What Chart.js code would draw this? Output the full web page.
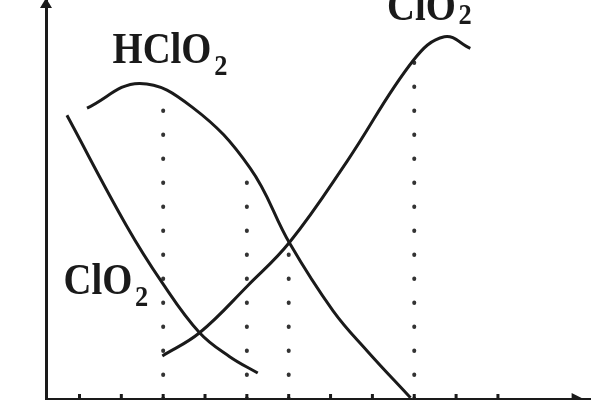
<!DOCTYPE html>
<html>
<head>
<meta charset="utf-8">
<script src="https://cdn.jsdelivr.net/npm/chart.js@4"></script>
<style>
  html, body { margin: 0; padding: 0; background: #fff; }
  #wrap { width: 600px; height: 400px; }
</style>
</head>
<body>
<div id="wrap"><canvas id="speciesChart"></canvas></div>
<script>
// curves (x: axis units, y: 0-100 fraction)
const hclo2X = [1.18, 2.43, 3.70, 5.07, 6.03, 7.06, 7.87, 8.91];
const hclo2Y = [72.9, 79.1, 73.1, 58.0, 38.9, 22.1, 12.1, 0.3];

const clo2X = [0.70, 2.12, 2.98, 3.87, 4.59, 5.26];
const clo2Y = [71.1, 43.5, 29.1, 16.6, 10.6, 6.5];

const clo2mX = [2.98, 3.87, 5.02, 6.03, 7.39, 8.98, 9.72, 10.34];
const clo2mY = [10.8, 16.6, 28.4, 39.4, 59.5, 84.9, 90.8, 87.9];

// dotted guide lines: x position and the height where they stop
const guideX = [3, 5, 6, 9];
const guideTop = [77.4, 58.5, 38.9, 84.6];

const tickValues = [1, 2, 3, 4, 5, 6, 7, 8, 9, 10, 11];

const toPoints = (xs, ys) => xs.map((x, i) => ({ x: x, y: ys[i] }));

const curveStyle = {
    showLine: true,
    borderColor: '#1a1a1a',
    borderWidth: 3,
    pointRadius: 0,
    tension: 0.4,
    fill: false
};

const datasets = [
    Object.assign({ label: 'HClO2', data: toPoints(hclo2X, hclo2Y) }, curveStyle),
    Object.assign({ label: 'ClO2', data: toPoints(clo2X, clo2Y) }, curveStyle),
    Object.assign({ label: 'ClO2-', data: toPoints(clo2mX, clo2mY) }, curveStyle)
];

guideX.forEach((gx, i) => {
    datasets.push({
        label: 'guide' + i,
        data: [{ x: gx, y: 0 }, { x: gx, y: guideTop[i] }],
        showLine: true,
        borderColor: '#333',
        borderWidth: 4,
        borderDash: [0.5, 23.5],
        borderCapStyle: 'round',
        pointRadius: 0
    });
});

// labels, ticks and arrow heads
const decorations = {
    id: 'decorations',
    afterDraw(chart) {
        const ctx = chart.ctx;
        const xs = chart.scales.x;
        const area = chart.chartArea;
        ctx.save();
        ctx.fillStyle = '#1a1a1a';
        ctx.strokeStyle = '#1a1a1a';

        // small ticks on the x axis
        ctx.lineWidth = 3;
        tickValues.forEach(v => {
            const px = xs.getPixelForValue(v);
            ctx.beginPath();
            ctx.moveTo(px, area.bottom);
            ctx.lineTo(px, area.bottom - 5);
            ctx.stroke();
        });

        // arrow heads
        ctx.beginPath();
        ctx.moveTo(area.left - 6, area.top + 8);
        ctx.lineTo(area.left, area.top - 2);
        ctx.lineTo(area.left + 6, area.top + 8);
        ctx.closePath();
        ctx.fill();
        const ax = xs.getPixelForValue(13.0);
        ctx.beginPath();
        ctx.moveTo(ax - 10, area.bottom - 6);
        ctx.lineTo(ax + 2, area.bottom);
        ctx.lineTo(ax - 10, area.bottom + 6);
        ctx.closePath();
        ctx.fill();

        const label = (main, px, py, sup) => {
            ctx.save();
            ctx.translate(px, py);
            ctx.scale(0.88, 1);
            ctx.font = 'bold 44px "Liberation Serif", serif';
            ctx.textBaseline = 'alphabetic';
            ctx.fillText(main, 0, 0);
            const w = ctx.measureText(main).width;
            ctx.font = 'bold 30px "Liberation Serif", serif';
            if (sup) {
                ctx.fillText('2', w + 3, 4);
                ctx.fillText('\u2212', w + 2, -13);
            } else {
                ctx.fillText('2', w + 3, 12);
            }
            ctx.restore();
        };
        label('HClO', xs.getPixelForValue(1.79), 63, false);
        label('ClO', xs.getPixelForValue(0.62), 294, false);
        label('ClO', xs.getPixelForValue(8.35), 20, true);
        ctx.restore();
    }
};

const ctx = document.getElementById('speciesChart').getContext('2d');
const speciesChart = new Chart(ctx, {
    type: 'scatter',
    data: { datasets: datasets },
    options: {
        responsive: true,
        maintainAspectRatio: false,
        animation: false,
        devicePixelRatio: 1,
        layout: { padding: { left: 46, right: 10, top: 0, bottom: 1 } },
        plugins: { legend: { display: false }, tooltip: { enabled: false } },
        scales: {
            x: {
                type: 'linear',
                min: 0.2,
                max: 13.2,
                grid: { display: false, drawTicks: false },
                ticks: { display: false },
                border: { display: true, color: '#1a1a1a', width: 3 }
            },
            y: {
                type: 'linear',
                min: 0,
                max: 100,
                grid: { display: false, drawTicks: false },
                ticks: { display: false },
                border: { display: true, color: '#1a1a1a', width: 3 }
            }
        }
    },
    plugins: [decorations]
});
</script>
</body>
</html>
